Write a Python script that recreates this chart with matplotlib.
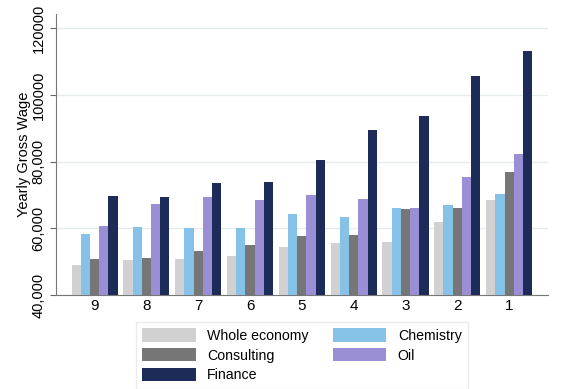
import numpy as np
import matplotlib
matplotlib.use('Agg')
import matplotlib.pyplot as plt
from matplotlib.patches import Patch

plt.rcParams['font.family'] = ['Liberation Sans', 'DejaVu Sans']

groups = ['9', '8', '7', '6', '5', '4', '3', '2', '1']
whole_economy = [49000, 50500, 50700, 51700, 54500, 55500, 56000, 62000, 68500]
chemistry = [58300, 60400, 60200, 60200, 64300, 63500, 66200, 66900, 70400]
consulting = [50700, 51200, 53300, 55000, 57800, 58000, 65700, 66100, 76800]
oil = [60700, 67400, 69500, 68400, 69900, 68800, 66200, 75400, 82300]
finance = [69800, 69400, 73600, 73800, 80500, 89400, 93800, 105600, 113100]

yticks = [40000, 60000, 80000, 100000, 120000]
ytick_labels = ['40,000', '60,000', '80,000', '100000', '120000']

series = [
    ('Whole economy', whole_economy, '#d1d1d1'),
    ('Chemistry', chemistry, '#86c1e8'),
    ('Consulting', consulting, '#767676'),
    ('Oil', oil, '#9a8fd4'),
    ('Finance', finance, '#1c2b58'),
]

fig = plt.figure(figsize=(5.62, 3.89), dpi=100)
ax = fig.add_axes([0.0996, 0.2416, 0.8755, 0.7224])

x = np.arange(len(groups))
w = 0.178
for i, (name, vals, col) in enumerate(series):
    ax.bar(x + (i - 2) * w, vals, width=w, color=col, zorder=3)

ax.set_xlim(-0.745, len(groups) - 1 + 0.75)
ax.set_ylim(40000, 124300)
ax.set_yticks(yticks)
ax.set_yticklabels(ytick_labels, rotation=90, va='center', fontsize=10.5)
ax.set_xticks(x)
ax.set_xticklabels(groups, fontsize=11)
ax.tick_params(axis='x', length=0, pad=3)
ax.tick_params(axis='y', length=4.5, color='#666666', pad=3)
ax.grid(axis='y', color='#e6ecee', lw=1, zorder=0)
for s in ['top', 'right']:
    ax.spines[s].set_visible(False)
for s in ['left', 'bottom']:
    ax.spines[s].set_color('#777777')
ax.set_ylabel('Yearly Gross Wage', fontsize=10.5, labelpad=0.5)

order = [0, 2, 4, 1, 3]
handles = [Patch(facecolor=series[i][2], label=series[i][0]) for i in order]
fig.legend(handles=handles, loc='upper center', bbox_to_anchor=(0.537, 0.172),
           ncol=2, fontsize=10.2, frameon=True, edgecolor='#e6e6e6', fancybox=False,
           handlelength=3.8, handleheight=1.05, labelspacing=0.38,
           columnspacing=1.7, borderpad=0.45, borderaxespad=0)

fig.savefig('out.png', dpi=100)
